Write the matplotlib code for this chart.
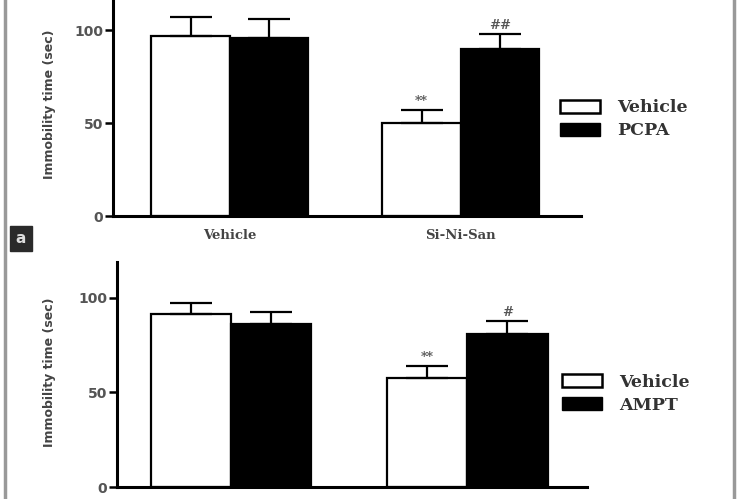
import matplotlib
matplotlib.use("Agg")
import matplotlib.pyplot as plt
from matplotlib.patches import Patch
from matplotlib.lines import Line2D
import numpy as np

groups = ["Vehicle", "Si-Ni-San"]

# panel a (top): Vehicle vs PCPA
top_vehicle = [97, 50]
top_vehicle_err = [10, 7]
top_pcpa = [96, 90]
top_pcpa_err = [10, 8]
top_vehicle_marks = ["", "**"]
top_pcpa_marks = ["", "##"]

# panel b (bottom): Vehicle vs AMPT
bot_vehicle = [91.5, 57.7]
bot_vehicle_err = [6, 6.3]
bot_ampt = [86, 81]
bot_ampt_err = [6.4, 6.8]
bot_vehicle_marks = ["", "**"]
bot_ampt_marks = ["", "#"]

serif = "DejaVu Serif"
bw = 0.34


def draw_panel(ax, v, verr, d, derr, vmarks, dmarks, xlim, ylim, show_x=True):
    x = np.arange(len(groups))
    ekw = dict(elinewidth=1.6, capthick=1.6, ecolor="black")
    ax.bar(x - bw / 2, v, bw, color="white", edgecolor="black", linewidth=1.6,
           yerr=[np.zeros(len(v)), verr], capsize=15, error_kw=ekw, zorder=2)
    ax.bar(x + bw / 2, d, bw, color="black", edgecolor="black", linewidth=1.6,
           yerr=[np.zeros(len(d)), derr], capsize=15, error_kw=ekw, zorder=2)
    for i in range(len(groups)):
        if vmarks[i]:
            ax.text(x[i] - bw / 2, v[i] + verr[i] + 1.0, vmarks[i], ha="center",
                    va="bottom", fontsize=9, fontweight="bold", family=serif,
                    color="#555")
        if dmarks[i]:
            ax.text(x[i] + bw / 2, d[i] + derr[i] + 1.0, dmarks[i], ha="center",
                    va="bottom", fontsize=9.5, fontweight="bold", family=serif,
                    color="#555")
    ax.set_xlim(*xlim)
    ax.set_ylim(*ylim)
    ax.set_yticks([0, 50, 100])
    ax.set_xticks(x)
    if show_x:
        ax.set_xticklabels(groups, family=serif, fontweight="bold",
                           fontsize=9.5, color="#444")
    else:
        ax.set_xticklabels([])
    ax.tick_params(axis="x", length=0, pad=9)
    ax.tick_params(axis="y", length=6, width=1.8, pad=1, labelsize=10,
                   labelcolor="#555")
    for lab in ax.get_yticklabels():
        lab.set_fontweight("bold")
    for s in ["top", "right"]:
        ax.spines[s].set_visible(False)
    for s in ["left", "bottom"]:
        ax.spines[s].set_linewidth(2.2)
    ax.set_ylabel("Immobility time (sec)", fontsize=9, fontweight="bold",
                  color="#444")
    handles = [Patch(facecolor="white", edgecolor="black", linewidth=1.8),
               Patch(facecolor="black", edgecolor="black")]
    return handles


fig = plt.figure(figsize=(7.5, 4.99), dpi=100)

ax1 = fig.add_axes([0.1507, 0.5671, 0.624, 0.447])
h = draw_panel(ax1, top_vehicle, top_vehicle_err, top_pcpa, top_pcpa_err,
               top_vehicle_marks, top_pcpa_marks, (-0.506, 1.52), (0, 120))
ax1.yaxis.set_label_coords(-0.122, 0.50)
fig.legend(h, ["Vehicle", "PCPA"], loc="center left",
           bbox_to_anchor=(0.735, 0.761), frameon=False, handlelength=2.3,
           handleheight=0.75, handletextpad=1.0, labelspacing=0.35,
           prop={"family": serif, "weight": "bold", "size": 12.5},
           labelcolor="#333", borderpad=0)

ax2 = fig.add_axes([0.156, 0.024, 0.627, 0.451])
h = draw_panel(ax2, bot_vehicle, bot_vehicle_err, bot_ampt, bot_ampt_err,
               bot_vehicle_marks, bot_ampt_marks, (-0.483, 1.508), (0, 119),
               show_x=False)
ax2.yaxis.set_label_coords(-0.13, 0.51)
fig.legend(h, ["Vehicle", "AMPT"], loc="center left",
           bbox_to_anchor=(0.738, 0.211), frameon=False, handlelength=2.3,
           handleheight=0.75, handletextpad=1.0, labelspacing=0.35,
           prop={"family": serif, "weight": "bold", "size": 12.5},
           labelcolor="#333", borderpad=0)

# panel label and gray frame of the original figure
fig.text(0.028, 0.522, "a", ha="center", va="center", fontsize=11,
         color="#ddd", fontweight="bold",
         bbox=dict(boxstyle="square,pad=0.35", facecolor="#2a2a2a",
                   edgecolor="#2a2a2a"))
fig.add_artist(Line2D([0.007, 0.007], [0, 1], color="#999", linewidth=2.5))
fig.add_artist(Line2D([0.979, 0.979], [0, 1], color="#999", linewidth=2.5))

fig.savefig("out.png", dpi=100)
